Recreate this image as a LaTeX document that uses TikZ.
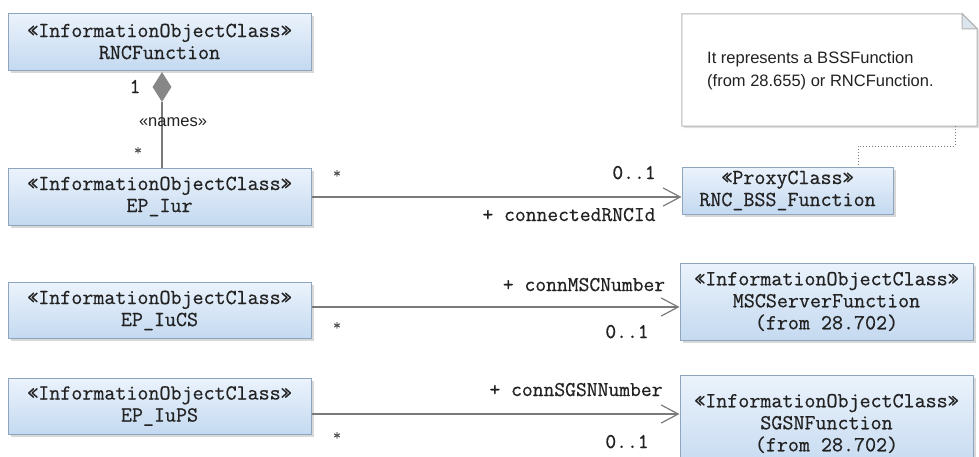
\documentclass[tikz,border=0pt]{standalone}
\usepackage{fontspec}
\setmainfont{Liberation Sans}
\newfontfamily\clsmono{Latin Modern Mono}[FakeBold=0.6,AutoFakeBold=0.6]
\usetikzlibrary{shapes.geometric,shadows,arrows.meta,calc}
\definecolor{boxtop}{HTML}{EBF3FC}
\definecolor{boxbot}{HTML}{C4D9F0}
\definecolor{boxborder}{HTML}{8EA5BD}
\definecolor{edgecol}{HTML}{7A7A7A}
\definecolor{txt}{HTML}{222222}
\definecolor{notebrd}{HTML}{B4B4B4}
\definecolor{foldcol}{HTML}{DCE5EE}
\tikzset{
  cls/.style={draw=boxborder, line width=1pt, top color=boxtop, bottom color=boxbot,
    minimum width=303pt, inner sep=0pt, align=center,
    font=\clsmono\bfseries\fontsize{21.4}{22}\selectfont, text=txt,
    drop shadow={shadow xshift=2.5pt, shadow yshift=-2.5pt, opacity=0.25, fill=black!60}},
  assoc/.style={draw=edgecol, line width=1.2pt, -{Straight Barb[length=17pt,width=18pt,line width=1.2pt]}},
  plainedge/.style={draw=edgecol, line width=1.2pt},
  lbl/.style={font=\clsmono\fontsize{21}{22}\selectfont, text=txt, inner sep=0pt, anchor=base},
  starlbl/.style={font=\clsmono\fontsize{15}{16}\selectfont, text=txt!80, inner sep=0pt, anchor=base},
  sanslbl/.style={font=\fontsize{16.5}{20}\selectfont, text=txt, inner sep=0pt, anchor=base},
  diam/.style={diamond, fill=edgecol!90, draw=none, inner sep=0pt, minimum width=19pt, minimum height=30pt},
  notelink/.style={draw=edgecol, line width=1pt, dotted},
}
\begin{document}
\begin{tikzpicture}[x=1pt,y=-1pt]
\clip (0,0) rectangle (979,456);
\fill[white] (0,0) rectangle (979,456);

% classes
\node[cls, minimum height=57pt] (rnc) at (159.5,41.5) {«InformationObjectClass»\\RNCFunction};
\node[cls, minimum height=57pt] (epiur) at (159.5,196.5) {«InformationObjectClass»\\EP\_Iur};
\node[cls, minimum height=56pt] (epiucs) at (159.5,310.5) {«InformationObjectClass»\\EP\_IuCS};
\node[cls, minimum height=56pt] (epiups) at (159.5,406) {«InformationObjectClass»\\EP\_IuPS};
\node[cls, minimum width=211pt, minimum height=47pt] (rbss) at (787.5,190.5) {«ProxyClass»\\RNC\_BSS\_Function};
\node[cls, minimum width=293pt, minimum height=77pt] (msc) at (826.5,301.5) {«InformationObjectClass»\\MSCServerFunction\\(from 28.702)};
\node[cls, minimum width=293pt, minimum height=96pt] (sgsn) at (826.5,423.5) {«InformationObjectClass»\\SGSNFunction\\(from 28.702)};

% note
\node[minimum width=295pt, minimum height=112pt, inner sep=0pt] (note) at (829.5,70) {};
\filldraw[draw=notebrd, fill=white, line width=1pt,
  drop shadow={shadow xshift=2pt, shadow yshift=-2pt, opacity=0.2, fill=black!60}]
  (note.north west) -- ($(note.north east)+(-15,0)$) -- ($(note.north east)+(0,15)$)
  -- (note.south east) -- (note.south west) -- cycle;
\filldraw[draw=notebrd, fill=foldcol, line width=1pt]
  ($(note.north east)+(-15,0)$) -- ($(note.north east)+(0,15)$) -- ($(note.north east)+(-15,15)$) -- cycle;
\node[sanslbl, anchor=base west] (notetxt1) at (707,63) {It represents a BSSFunction};
\node[sanslbl, anchor=base west] (notetxt2) at (707,86) {(from 28.655) or RNCFunction.};
\coordinate (nl1) at (955,126);
\coordinate (nl2) at (858,167);
\draw[notelink] (nl1) -- (955,146) -| (nl2);

% composition
\node[diam] (dia) at (162,87) {};
\draw[plainedge] (dia.south) -- (dia.south |- epiur.north);
\node[lbl] (m1) at (135,93) {\bfseries 1};
\node[sanslbl] (names) at (173,126) {«names»};
\node[starlbl] (mstar) at (138,155) {*};

% associations
\coordinate (yiur) at (0,197);
\coordinate (ycs) at (0,307);
\coordinate (yps) at (0,414);
\draw[assoc] (epiur.east |- yiur) -- (rbss.west |- yiur);
\draw[assoc] (epiucs.east |- ycs) -- (msc.west |- ycs);
\draw[assoc] (epiups.east |- yps) -- (sgsn.west |- yps);

\node[starlbl] (s1) at (337,178) {*};
\node[lbl] (z1) at (634,179) {0..1};
\node[lbl] (r1) at (569,221) {+ connectedRNCId};

\node[lbl] (r2) at (584,291) {+ connMSCNumber};
\node[starlbl] (s2) at (337,330) {*};
\node[lbl] (z2) at (627,338) {0..1};

\node[lbl] (r3) at (576,396) {+ connSGSNNumber};
\node[starlbl] (s3) at (337,440) {*};
\node[lbl] (z3) at (627,448) {0..1};
\end{tikzpicture}
\end{document}
